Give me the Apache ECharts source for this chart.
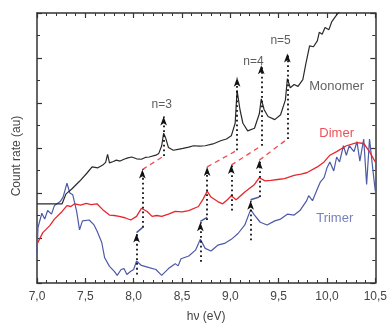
<!DOCTYPE html>
<html>
<head>
<meta charset="utf-8">
<script src="https://cdn.jsdelivr.net/npm/echarts@6/dist/echarts.min.js"></script>
<style>
  html, body { margin: 0; padding: 0; background: #fff; }
  #chart { width: 390px; height: 328px; }
</style>
</head>
<body>
<div id="chart"></div>
<script>
// photon energy (eV) vs count rate (au)
const monomer = [
  [7.00, 1.76], [7.26, 1.76], [7.30, 1.98], [7.36, 2.09], [7.44, 2.26], [7.52, 2.45],
  [7.57, 2.58], [7.63, 2.56], [7.68, 2.62], [7.71, 2.68], [7.73, 2.86], [7.75, 2.67],
  [7.79, 2.70], [7.82, 2.73], [7.86, 2.71], [7.90, 2.75], [7.94, 2.78], [7.98, 2.80],
  [8.03, 2.76], [8.08, 2.75], [8.12, 2.79], [8.16, 2.80], [8.23, 2.84], [8.26, 2.88],
  [8.29, 3.05], [8.31, 3.33], [8.33, 3.23], [8.36, 3.01], [8.41, 2.95], [8.46, 2.97],
  [8.51, 2.99], [8.57, 3.02], [8.62, 3.05], [8.68, 3.04], [8.74, 3.05], [8.82, 3.09],
  [8.90, 3.16], [8.96, 3.20], [9.01, 3.27], [9.05, 3.55], [9.07, 4.28], [9.10, 3.85],
  [9.13, 3.55], [9.18, 3.38], [9.25, 3.44], [9.30, 3.76], [9.32, 4.09], [9.35, 3.85],
  [9.39, 3.70], [9.46, 3.63], [9.52, 3.74], [9.57, 4.07], [9.59, 4.54], [9.62, 4.34],
  [9.66, 4.41], [9.70, 4.37], [9.75, 4.52], [9.78, 4.86], [9.82, 5.27], [9.86, 5.25],
  [9.90, 5.38], [9.92, 5.57], [9.95, 5.53], [9.98, 5.68], [10.02, 5.63], [10.05, 5.81],
  [10.10, 5.96], [10.15, 6.07], [10.25, 6.30]
];
const dimer = [
  [7.00, 0.86], [7.06, 1.12], [7.13, 1.27], [7.18, 1.42], [7.26, 1.59], [7.31, 1.72],
  [7.35, 1.70], [7.39, 1.76], [7.45, 1.73], [7.51, 1.77], [7.56, 1.74], [7.62, 1.76],
  [7.68, 1.63], [7.75, 1.51], [7.80, 1.50], [7.85, 1.48], [7.91, 1.45], [7.97, 1.40],
  [8.03, 1.48], [8.08, 1.66], [8.14, 1.59], [8.19, 1.48], [8.24, 1.50], [8.29, 1.48],
  [8.36, 1.53], [8.43, 1.59], [8.50, 1.58], [8.57, 1.61], [8.67, 1.70], [8.72, 1.87],
  [8.76, 2.04], [8.80, 1.91], [8.87, 1.81], [8.92, 1.76], [8.97, 1.85], [9.01, 1.94],
  [9.06, 1.85], [9.15, 2.02], [9.25, 2.19], [9.30, 2.34], [9.36, 2.27], [9.42, 2.28],
  [9.49, 2.30], [9.56, 2.32], [9.66, 2.39], [9.73, 2.42], [9.79, 2.45], [9.90, 2.58],
  [9.97, 2.69], [10.03, 2.84], [10.10, 2.92], [10.20, 3.05], [10.31, 3.12], [10.38, 3.10],
  [10.44, 2.92], [10.50, 2.69]
];
const trimer = [
  [7.00, 0.65], [7.01, 1.23], [7.05, 1.55], [7.08, 1.42], [7.11, 1.61], [7.15, 1.53],
  [7.18, 1.72], [7.24, 1.81], [7.27, 1.91], [7.31, 2.22], [7.34, 2.00], [7.37, 1.96],
  [7.41, 1.59], [7.44, 1.18], [7.47, 1.38], [7.54, 1.40], [7.59, 1.29], [7.62, 1.16],
  [7.67, 0.90], [7.70, 0.56], [7.75, 0.37], [7.80, 0.26], [7.83, 0.17], [7.87, 0.30],
  [7.90, 0.32], [7.93, 0.19], [7.97, 0.26], [8.00, 0.30], [8.03, 0.49], [8.08, 0.39],
  [8.16, 0.34], [8.23, 0.30], [8.29, 0.17], [8.36, 0.32], [8.43, 0.43], [8.46, 0.38],
  [8.49, 0.54], [8.57, 0.60], [8.64, 0.73], [8.69, 0.97], [8.74, 0.77], [8.80, 0.71],
  [8.87, 0.84], [8.94, 0.88], [9.01, 0.97], [9.08, 1.10], [9.15, 1.29], [9.21, 1.63],
  [9.25, 1.51], [9.31, 1.35], [9.38, 1.29], [9.46, 1.38], [9.52, 1.42], [9.59, 1.53],
  [9.66, 1.51], [9.72, 1.61], [9.79, 1.83], [9.81, 1.94], [9.85, 1.83], [9.90, 2.09],
  [9.93, 2.24], [9.97, 2.34], [10.00, 2.56], [10.03, 2.69], [10.07, 2.49], [10.10, 2.80],
  [10.13, 2.69], [10.17, 3.05], [10.20, 2.84], [10.23, 3.05], [10.28, 2.92], [10.31, 3.14],
  [10.34, 2.71], [10.38, 3.20], [10.41, 2.19], [10.44, 3.20], [10.48, 2.41], [10.50, 2.04]
];

// vertical arrows: [x, from, to]
const monoArrows = [[8.31, 2.82, 3.70], [9.07, 2.95, 4.56], [9.32, 3.05, 4.84], [9.59, 3.20, 5.10]];
const dimerArrows = [[8.09, 1.23, 2.52], [8.76, 1.40, 2.58], [9.01, 1.61, 2.62], [9.30, 1.91, 2.73]];
const trimerArrows = [[8.03, 0.19, 1.10], [8.69, 0.47, 1.35], [9.21, 0.95, 1.83]];
// connecting segments: [x1, y1, x2, y2]
const redLinks = [[8.09, 2.52, 8.31, 2.82], [8.76, 2.58, 9.07, 2.95], [9.01, 2.62, 9.32, 3.05], [9.30, 2.73, 9.59, 3.20]];
const blueLinks = [[8.03, 1.12, 8.09, 1.23], [8.69, 1.37, 8.76, 1.46], [9.21, 1.85, 9.30, 1.91]];

const peakLabels = [[8.29, 3.96, 'n=3'], [9.24, 4.92, 'n=4'], [9.52, 5.38, 'n=5']];
const curveLabels = [[10.10, 4.37, 'Monomer', '#3a3a3a'], [10.10, 3.33, 'Dimer', '#e8262d'], [10.08, 1.44, 'Trimer', '#5462ad']];

const xTicks = { min: 7, max: 10.5, interval: 0.5 };
const yTicks = { min: 0, max: 6, interval: 1 };

const FONT = 'Liberation Sans, Arial, sans-serif';
const AXIS_COLOR = '#333';

function vArrows(list) {
  return list.map(a => [{ coord: [a[0], a[1]] }, { coord: [a[0], a[2]] }]);
}
function links(list) {
  return list.map(l => [{ coord: [l[0], l[1]] }, { coord: [l[2], l[3]] }]);
}

function axisX(pos, labels) {
  return {
    type: 'value',
    position: pos,
    min: xTicks.min,
    max: xTicks.max,
    interval: xTicks.interval,
    name: labels ? 'hν (eV)' : '',
    nameLocation: 'middle',
    nameGap: 28,
    nameTextStyle: { color: '#444', fontSize: 12, fontFamily: FONT },
    axisLine: { show: true, onZero: false, lineStyle: { color: AXIS_COLOR, width: 1.5 } },
    axisTick: { show: true, inside: true, length: 5, lineStyle: { color: AXIS_COLOR, width: 1.2 } },
    minorTick: { show: true, splitNumber: 5, length: 3, lineStyle: { color: AXIS_COLOR, width: 1 } },
    axisLabel: {
      show: labels,
      margin: 8,
      color: '#444',
      fontSize: 12,
      fontFamily: FONT,
      formatter: v => v.toFixed(1).replace('.', ',')
    },
    splitLine: { show: false }
  };
}

function axisY(pos, showName) {
  return {
    type: 'value',
    position: pos,
    min: yTicks.min,
    max: yTicks.max,
    interval: yTicks.interval,
    name: showName ? 'Count rate (au)' : '',
    nameLocation: 'middle',
    nameGap: 14,
    nameTextStyle: { color: '#444', fontSize: 12, fontFamily: FONT, padding: [0, 16, 0, 0] },
    axisLine: { show: true, onZero: false, lineStyle: { color: AXIS_COLOR, width: 1.5 } },
    axisTick: { show: true, inside: true, length: 5, lineStyle: { color: AXIS_COLOR, width: 1.2 } },
    minorTick: { show: true, splitNumber: 2, length: 3, lineStyle: { color: AXIS_COLOR, width: 1 } },
    axisLabel: { show: false },
    splitLine: { show: false }
  };
}

function chartInit() {
  const myChart = echarts.init(document.getElementById('chart'), null, { renderer: 'canvas' });
  myChart.setOption({
    animation: false,
    textStyle: { fontFamily: FONT },
    grid: { left: 37, right: 11, top: 13, bottom: 36, containLabel: false },
    xAxis: [axisX('bottom', true), axisX('top', false)],
    yAxis: [axisY('left', true), axisY('right', false)],
    series: [
      {
        name: 'Monomer',
        type: 'line',
        data: monomer,
        symbol: 'none',
        clip: true,
        lineStyle: { color: '#2a2a2a', width: 1.2 },
        z: 3
      },
      {
        name: 'Dimer',
        type: 'line',
        data: dimer,
        symbol: 'none',
        clip: true,
        lineStyle: { color: '#e8262d', width: 1.3 },
        z: 3,
        markLine: {
          silent: true,
          symbol: ['none', 'none'],
          label: { show: false },
          lineStyle: { color: '#ef4a4f', width: 1.3, type: [5, 4] },
          data: links(redLinks)
        }
      },
      {
        name: 'Trimer',
        type: 'line',
        data: trimer,
        symbol: 'none',
        clip: true,
        lineStyle: { color: '#4c5aa8', width: 1.2 },
        z: 2,
        markLine: {
          silent: true,
          symbol: ['none', 'none'],
          label: { show: false },
          lineStyle: { color: '#4c5aa8', width: 1.5, type: 'solid' },
          data: links(blueLinks)
        }
      },
      {
        name: 'arrows',
        type: 'line',
        data: [],
        markLine: {
          silent: true,
          symbol: ['none', 'arrow'],
          symbolSize: [5, 9],
          label: { show: false },
          lineStyle: { color: '#111', width: 1.8, type: [1.8, 3] },
          data: vArrows(monoArrows).concat(vArrows(dimerArrows), vArrows(trimerArrows))
        },
        z: 4
      },
      {
        name: 'peak labels',
        type: 'scatter',
        symbolSize: 0,
        data: peakLabels.map(p => ({ value: [p[0], p[1]], name: p[2] })),
        label: {
          show: true,
          position: 'inside',
          formatter: p => p.name,
          color: '#333',
          fontSize: 12,
          fontFamily: FONT
        },
        z: 5
      },
      {
        name: 'curve labels',
        type: 'scatter',
        symbolSize: 0,
        data: curveLabels.map(p => ({
          value: [p[0], p[1]],
          name: p[2],
          label: { color: p[3] }
        })),
        label: {
          show: true,
          position: 'inside',
          formatter: p => p.name,
          fontSize: 13,
          fontFamily: FONT
        },
        z: 5
      }
    ]
  });
}

chartInit();
</script>
</body>
</html>
